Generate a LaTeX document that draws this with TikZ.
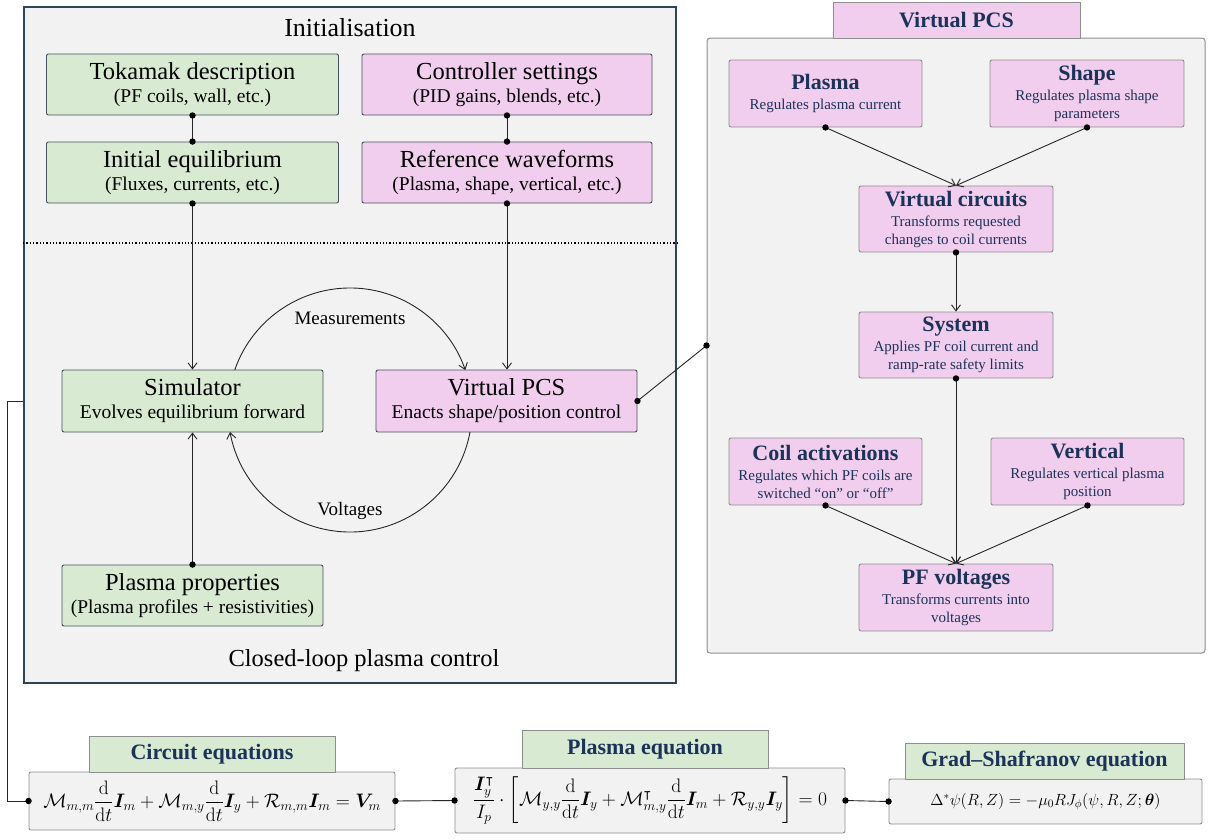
\RequirePackage{fix-cm}
\documentclass[tikz,border=0pt]{standalone}
\usepackage{amsmath,amssymb,bm}
\usepackage[no-math]{fontspec}
\setmainfont{Liberation Serif}
\usetikzlibrary{arrows.meta,calc}
\definecolor{panelfill}{HTML}{F2F2F2}
\definecolor{gfill}{HTML}{D9EAD3}
\definecolor{pfill}{HTML}{F2CEEE}
\definecolor{boxline}{HTML}{46535C}
\definecolor{rline}{HTML}{8E8E8E}
\definecolor{navy}{HTML}{1B3358}
\definecolor{frame}{HTML}{2D4554}
\newcommand\bxT[1]{{\fontsize{24.5}{22}\selectfont #1}}
\newcommand\bxS[1]{{\fontsize{19.5}{22}\selectfont #1}}
\newcommand\rT[1]{{\fontsize{22}{20}\selectfont\bfseries #1}}
\newcommand\rS[1]{{\fontsize{15}{18}\selectfont #1}}
\tikzset{
  every node/.style={inner sep=0pt, align=center},
  lfont/.style={font=\fontsize{10}{23}\selectfont},
  rfont/.style={font=\fontsize{10}{18}\selectfont},
  gbox/.style={lfont, draw=boxline, fill=gfill, rounded corners=2pt, line width=0.9pt},
  pbox/.style={lfont, draw=boxline, fill=pfill, rounded corners=2pt, line width=0.9pt},
  rbox/.style={rfont, draw=rline, fill=pfill, rounded corners=2pt, line width=0.9pt, text=navy},
  ebox/.style={draw=rline, fill=panelfill, rounded corners=2pt, line width=0.9pt},
  etab/.style={draw=rline, fill=gfill, line width=0.9pt, text=navy, font=\fontsize{22}{24}\selectfont\bfseries},
  conn/.style={line width=0.9pt, draw=black!85},
  arr/.style={conn, -{Straight Barb[length=6pt,width=9pt]}},
  lbl/.style={font=\fontsize{19}{21}\selectfont},
  big/.style={font=\fontsize{26}{28}\selectfont}
}
\newcommand\dotat[1]{\fill[black] (#1) circle[radius=3.2];}
\begin{document}
\begin{tikzpicture}[x=1pt,y=1pt]
\useasboundingbox (0,0) rectangle (1208,-839);
% ---------- left frame ----------
\node[draw=frame, fill=panelfill, line width=1.8pt, minimum width=652, minimum height=676] (lbox) at (350,-345) {};
\node[big] (tinit) at (350,-28) {Initialisation};
\node[big, font=\fontsize{24.5}{27}\selectfont] (tclpc) at (364,-661) {Closed-loop plasma control};
\draw[line width=1.3pt, dotted] (lbox.west |- 0,-243) -- (lbox.east |- 0,-243);

\node[gbox, minimum width=292, minimum height=61] (tok) at (192.5,-84.5) {\bxT{Tokamak description}\\\bxS{(PF coils, wall, etc.)}};
\node[pbox, minimum width=290, minimum height=61] (ctrl) at (507,-84.5) {\bxT{Controller settings}\\\bxS{(PID gains, blends, etc.)}};
\node[gbox, minimum width=292, minimum height=61] (init) at (192.5,-172.5) {\bxT{Initial equilibrium}\\\bxS{(Fluxes, currents, etc.)}};
\node[pbox, minimum width=290, minimum height=61] (ref) at (507,-172.5) {\bxT{Reference waveforms}\\\bxS{(Plasma, shape, vertical, etc.)}};
\node[gbox, minimum width=261, minimum height=62] (sim) at (192.5,-401) {\bxT{Simulator}\\\bxS{Evolves equilibrium forward}};
\node[pbox, minimum width=261, minimum height=62] (vpcs) at (506.5,-401) {\bxT{Virtual PCS}\\\bxS{Enacts shape/position control}};
\node[gbox, minimum width=261, minimum height=61] (props) at (192.5,-595.5) {\bxT{Plasma properties}\\\bxS{(Plasma profiles + resistivities)}};

\draw[conn] (tok.south) -- (init.north);
\dotat{tok.south}\dotat{init.north}
\draw[conn] (ctrl.south) -- (ref.north);
\dotat{ctrl.south}\dotat{ref.north}
\draw[arr] (init.south) -- (sim.north);
\dotat{init.south}
\draw[arr] (ref.south) -- (vpcs.north -| ref.south);
\dotat{ref.south}
\draw[arr] (props.north) -- (sim.south);
\dotat{props.north}

\coordinate (C) at (350,-410);
\draw[arr] (C) ++(160.9:122) arc[start angle=160.9, end angle=19.1, radius=122];
\draw[arr] (C) ++(-10.4:122) arc[start angle=-10.4, end angle=-169.6, radius=122];
\node[lbl] (meas) at (350,-318) {Measurements};
\node[lbl] (volt) at (350,-511) {Voltages};

% ---------- right panel ----------
\node[draw=rline, fill=panelfill, rounded corners=3pt, line width=1pt, minimum width=498, minimum height=615] (panel) at (956,-345.5) {};
\node[draw=rline, fill=pfill, line width=1pt, minimum width=247, minimum height=36, text=navy] (tab) at (956.5,-20) {\rT{Virtual PCS}};

\node[rbox, minimum width=193, minimum height=67] (rpl) at (825.5,-93.5) {\rT{Plasma}\\[2pt]\rS{Regulates plasma current}};
\node[rbox, minimum width=194, minimum height=67] (rsh) at (1087,-93.5) {\rT{Shape}\\[2pt]\rS{Regulates plasma shape}\\\rS{parameters}};
\node[rbox, minimum width=194, minimum height=66] (rvc) at (956,-219) {\rT{Virtual circuits}\\[2pt]\rS{Transforms requested}\\\rS{changes to coil currents}};
\node[rbox, minimum width=194, minimum height=66] (rsys) at (956,-345) {\rT{System}\\[2pt]\rS{Applies PF coil current and}\\\rS{ramp-rate safety limits}};
\node[rbox, minimum width=193, minimum height=67] (rcoil) at (825.5,-471.5) {\rT{Coil activations}\\[2pt]\rS{Regulates which PF coils are}\\\rS{switched ``on'' or ``off''}};
\node[rbox, minimum width=193, minimum height=67] (rvert) at (1087.5,-471.5) {\rT{Vertical}\\[2pt]\rS{Regulates vertical plasma}\\\rS{position}};
\node[rbox, minimum width=194, minimum height=67] (rpf) at (956,-597.5) {\rT{PF voltages}\\[2pt]\rS{Transforms currents into}\\\rS{voltages}};

\draw[arr] (rpl.south) -- (rvc.north); \dotat{rpl.south}
\draw[arr] (rsh.south) -- (rvc.north); \dotat{rsh.south}
\draw[arr] (rvc.south) -- (rsys.north); \dotat{rvc.south}
\draw[arr] (rsys.south) -- (rpf.north); \dotat{rsys.south}
\draw[arr] (rcoil.south) -- (rpf.north); \dotat{rcoil.south}
\draw[arr] (rvert.south) -- (rpf.north); \dotat{rvert.south}

\draw[conn] (vpcs.east) -- (panel.west);
\dotat{vpcs.east}\dotat{panel.west}

% ---------- equations ----------
\node[ebox, minimum width=366, minimum height=58] (ceq) at (212,-801)
  {\fontsize{19.5}{20}\selectfont $\displaystyle\mathcal{M}_{m,m}\frac{\mathrm{d}}{\mathrm{d}t}\bm{I}_m+\mathcal{M}_{m,y}\frac{\mathrm{d}}{\mathrm{d}t}\bm{I}_y+\mathcal{R}_{m,m}\bm{I}_m=\bm{V}_m$};
\node[etab, minimum width=246, minimum height=36] (ceqt) at (212,-754) {Circuit equations};
\node[ebox, minimum width=390, minimum height=65] (peq) at (650,-800.5)
  {\fontsize{19.5}{20}\selectfont $\displaystyle\frac{\bm{I}_y^{\intercal}}{I_p}\cdot\left[\mathcal{M}_{y,y}\frac{\mathrm{d}}{\mathrm{d}t}\bm{I}_y+\mathcal{M}_{m,y}^{\intercal}\frac{\mathrm{d}}{\mathrm{d}t}\bm{I}_m+\mathcal{R}_{y,y}\bm{I}_y\right]=0$};
\node[etab, minimum width=246, minimum height=38] (peqt) at (645,-749) {Plasma equation};
\node[ebox, minimum width=313, minimum height=45] (gs) at (1045.5,-801.5)
  {\fontsize{16.2}{18}\selectfont $\Delta^{*}\psi(R,Z)=-\mu_0RJ_\phi(\psi,R,Z;\bm{\theta})$};
\node[etab, minimum width=279, minimum height=36] (gst) at (1044.5,-761) {Grad--Shafranov equation};

\draw[conn] (lbox.west |- sim.west) -- ++(-16,0) |- (ceq.west);
\dotat{ceq.west}
\draw[conn] (ceq.east) -- (peq.west);
\dotat{ceq.east}\dotat{peq.west}
\draw[conn] (peq.east) -- (gs.west);
\dotat{peq.east}\dotat{gs.west}
\end{tikzpicture}
\end{document}
